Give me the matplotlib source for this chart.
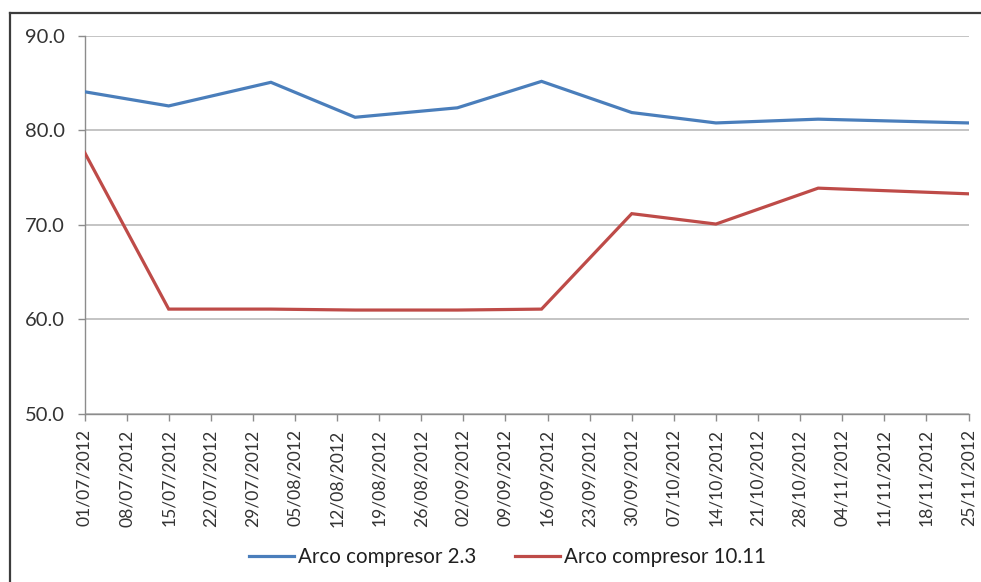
import matplotlib
matplotlib.use("Agg")
import matplotlib.pyplot as plt
from matplotlib.lines import Line2D
import datetime as dt

# Sample dates (dd/mm/yyyy) and measured values
dates = ["01/07/2012", "15/07/2012", "01/08/2012", "15/08/2012", "01/09/2012",
         "15/09/2012", "30/09/2012", "14/10/2012", "31/10/2012", "25/11/2012"]
arco_2_3 = [84.1, 82.6, 85.1, 81.4, 82.4, 85.2, 81.9, 80.8, 81.2, 80.8]
arco_10_11 = [77.7, 61.1, 61.1, 61.0, 61.0, 61.1, 71.2, 70.1, 73.9, 73.3]
series_names = ["Arco compresor 2.3", "Arco compresor 10.11"]
y_ticks = [50.0, 60.0, 70.0, 80.0, 90.0]
axis_start = "01/07/2012"
axis_end = "25/11/2012"

def parse(s):
    return dt.datetime.strptime(s, "%d/%m/%Y")

x = [parse(d) for d in dates]
x0, x1 = parse(axis_start), parse(axis_end)

FONT = ["Lato", "DejaVu Sans"]
plt.rcParams["font.family"] = FONT

W, H = 981, 582
fig = plt.figure(figsize=(W / 100, H / 100), dpi=100)
fig.patch.set_facecolor("white")

left, right, top, bottom = 84.5, 968.5, 36, 414
ax = fig.add_axes([left / W, 1 - bottom / H, (right - left) / W, (bottom - top) / H])

blue = "#4A7EBB"
red = "#BE4B48"
ax.plot(x, arco_2_3, color=blue, lw=2.3, solid_joinstyle="miter", zorder=3)
ax.plot(x, arco_10_11, color=red, lw=2.3, solid_joinstyle="miter", zorder=3)

ax.set_xlim(x0, x1)
ax.set_ylim(y_ticks[0], y_ticks[-1])
ax.set_yticks(y_ticks)
ax.yaxis.set_major_formatter(matplotlib.ticker.FormatStrFormatter("%.1f"))

weekly = []
d = x0
while d <= x1:
    weekly.append(d)
    d += dt.timedelta(days=7)
ax.set_xticks(weekly)
ax.set_xticklabels([w.strftime("%d/%m/%Y") for w in weekly], rotation=90)

for s in ("top", "right"):
    ax.spines[s].set_visible(False)
for s in ("left", "bottom"):
    ax.spines[s].set_color("#8C8C8C")
    ax.spines[s].set_linewidth(1.0)

ax.grid(axis="y", color="#BFBFBF", lw=1.3)
ax.set_axisbelow(True)
ax.tick_params(axis="both", direction="out", length=5, width=1.0, color="#8C8C8C",
               labelcolor="#333333")
ax.tick_params(axis="y", pad=9, labelsize=14.5)
ax.tick_params(axis="x", pad=6, labelsize=12.6)

# Outer chart frame (left and top edges)
fig.add_artist(Line2D([10 / W, 10 / W], [0, 1 - 13 / H], color="#3C3C3C", lw=1.6))
fig.add_artist(Line2D([10 / W, 1], [1 - 13 / H, 1 - 13 / H], color="#3C3C3C", lw=1.6))

handles = [Line2D([], [], color=blue, lw=2.3), Line2D([], [], color=red, lw=2.3)]
fig.legend(handles, series_names, loc="center left", bbox_to_anchor=(249 / W, 1 - 557 / H),
           ncol=2, frameon=False, fontsize=14.8, handlelength=2.2, handletextpad=0.2,
           columnspacing=1.85, labelcolor="#202020", borderaxespad=0, borderpad=0)

fig.savefig("out.png", dpi=100, facecolor="white")
